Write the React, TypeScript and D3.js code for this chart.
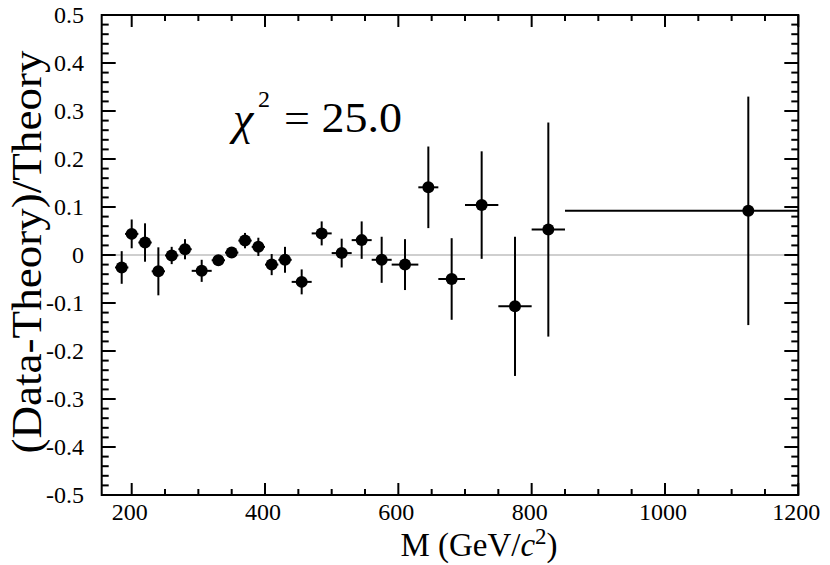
import React from "react";
import * as d3 from "d3";

const mass = [185, 200, 220, 240, 260, 280, 305, 330, 350, 370, 390, 410, 430, 455, 485, 515, 545, 575, 610, 645, 680, 725, 775, 825, 1125];
const binLo = [175, 190, 210, 230, 250, 270, 290, 320, 340, 360, 380, 400, 420, 440, 470, 500, 530, 560, 590, 630, 660, 700, 750, 800, 850];
const binHi = [195, 210, 230, 250, 270, 290, 320, 340, 360, 380, 400, 420, 440, 470, 500, 530, 560, 590, 630, 660, 700, 750, 800, 850, 1200];
const ratio = [-0.026, 0.044, 0.026, -0.034, -0.001, 0.012, -0.033, -0.011, 0.005, 0.030, 0.017, -0.020, -0.010, -0.056, 0.045, 0.004, 0.031, -0.010, -0.020, 0.141, -0.050, 0.104, -0.107, 0.053, 0.092];
const err = [0.034, 0.030, 0.040, 0.050, 0.018, 0.021, 0.023, 0.010, 0.010, 0.016, 0.019, 0.022, 0.027, 0.026, 0.025, 0.030, 0.039, 0.048, 0.053, 0.085, 0.085, 0.112, 0.145, 0.223, 0.238];

const xTickLabels = [200, 400, 600, 800, 1000, 1200];
const yTickLabels = [0.5, 0.4, 0.3, 0.2, 0.1, 0, -0.1, -0.2, -0.3, -0.4, -0.5];

const FONT = "Liberation Serif";

export default function App() {
  const W = 830, H = 565;
  const L = 101.7, R = 798.3, T = 15, B = 495;
  const x = d3.scaleLinear().domain([155, 1200]).range([L, R]);
  const y = d3.scaleLinear().domain([-0.5, 0.5]).range([B, T]);

  const xMinor = d3.range(200, 1200, 50).filter((v) => v % 200 !== 0);
  const yMinor = d3.range(-50, 51, 2).map((v) => v / 100).filter((v) => Math.round(v * 100) % 10 !== 0);

  const fmtY = (v: number) => (v === 0 ? "0" : (v < 0 ? "-" : "") + Math.abs(v).toFixed(1));

  return (
    <svg width={W} height={H} style={{ position: "absolute", left: 0, top: 0, background: "#fff" }}>
      <rect x={0} y={0} width={W} height={H} fill="#fff" />
      <line x1={L} x2={R} y1={y(0)} y2={y(0)} stroke="#a0a0a0" strokeWidth={1.2} />

      <g stroke="#000" strokeWidth={2}>
        {xTickLabels.map((v) => (
          <g key={"xm" + v}>
            <line x1={x(v)} x2={x(v)} y1={B} y2={B - 12} />
            <line x1={x(v)} x2={x(v)} y1={T} y2={T + 12} />
          </g>
        ))}
        {xMinor.map((v) => (
          <g key={"xn" + v}>
            <line x1={x(v)} x2={x(v)} y1={B} y2={B - 6} />
            <line x1={x(v)} x2={x(v)} y1={T} y2={T + 6} />
          </g>
        ))}
        {yTickLabels.map((v) => (
          <g key={"ym" + v}>
            <line x1={L} x2={L + 14} y1={y(v)} y2={y(v)} />
            <line x1={R} x2={R - 14} y1={y(v)} y2={y(v)} />
          </g>
        ))}
        {yMinor.map((v) => (
          <g key={"yn" + v}>
            <line x1={L} x2={L + 7} y1={y(v)} y2={y(v)} />
            <line x1={R} x2={R - 7} y1={y(v)} y2={y(v)} />
          </g>
        ))}
      </g>

      <rect x={L} y={T} width={R - L} height={B - T} fill="none" stroke="#000" strokeWidth={2} />

      <g stroke="#000" strokeWidth={2}>
        {mass.map((m, i) => (
          <g key={"p" + i}>
            <line x1={x(binLo[i])} x2={x(binHi[i])} y1={y(ratio[i])} y2={y(ratio[i])} />
            <line x1={x(m)} x2={x(m)} y1={y(ratio[i] - err[i])} y2={y(ratio[i] + err[i])} />
          </g>
        ))}
      </g>
      <g fill="#000">
        {mass.map((m, i) => (
          <circle key={"c" + i} cx={x(m)} cy={y(ratio[i])} r={6} />
        ))}
      </g>

      <g style={{ fontFamily: FONT }} fontSize={24} fill="#000">
        {xTickLabels.map((v) => (
          <text key={"xl" + v} x={x(v) - 2} y={520} textAnchor="middle">
            {v}
          </text>
        ))}
        {yTickLabels.map((v) => (
          <text key={"yl" + v} x={84} y={y(v) + 8} textAnchor="end">
            {fmtY(v)}
          </text>
        ))}
      </g>

      <text x={479} y={556} textAnchor="middle" style={{ fontFamily: FONT }} fontSize={33} fill="#000">
        M (GeV/<tspan fontStyle="italic">c</tspan>
        <tspan fontSize={23} dy={-12}>2</tspan>
        <tspan dy={12}>)</tspan>
      </text>
      <text
        transform="translate(41,252) rotate(-90)"
        textAnchor="middle"
        style={{ fontFamily: FONT }}
        fontSize={42}
        textLength={403}
        lengthAdjust="spacingAndGlyphs"
        fill="#000"
      >
        (Data-Theory)/Theory
      </text>

      <g style={{ fontFamily: FONT }} fill="#000">
        <text x={233} y={134} fontSize={46} fontStyle="italic">χ</text>
        <text x={258} y={107} fontSize={24}>2</text>
        <text x={284} y={132} fontSize={42} textLength={118} lengthAdjust="spacingAndGlyphs">= 25.0</text>
      </g>
    </svg>
  );
}
